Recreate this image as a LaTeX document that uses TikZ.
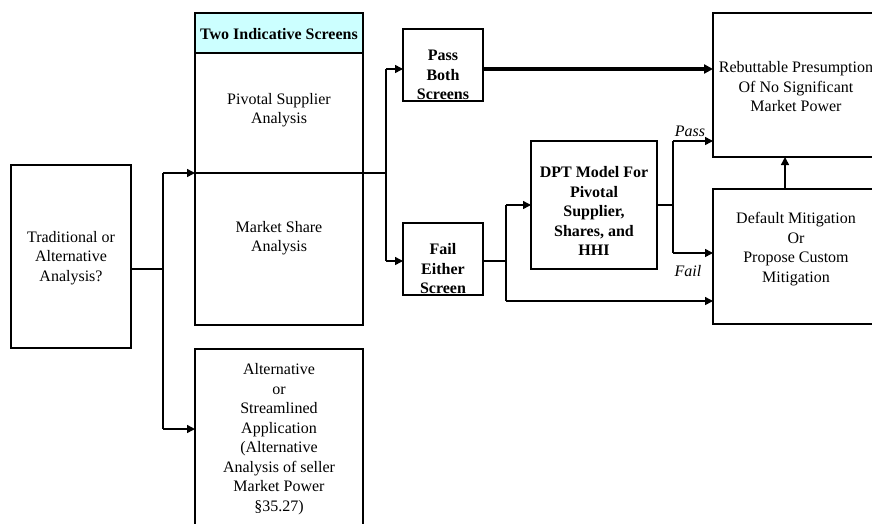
\documentclass[tikz,border=0pt]{standalone}
\usepackage{fontspec}
\setmainfont{Liberation Serif}
\usetikzlibrary{arrows.meta}
\definecolor{hdrcyan}{HTML}{CCFFFF}
\begin{document}
\begin{tikzpicture}[x=1pt,y=-1pt,
  box/.style={draw,line width=1.7pt,inner sep=0pt,outer sep=0pt,anchor=north west},
  txt/.style={align=center,font=\fontsize{16}{19.5}\selectfont,inner sep=0pt},
  btxt/.style={align=center,font=\fontsize{16}{19.5}\selectfont\bfseries,inner sep=0pt},
  itxt/.style={align=center,font=\fontsize{16}{19.5}\selectfont\itshape,inner sep=0pt},
  wire/.style={line width=1.5pt},
  conn/.style={line width=1.5pt,-{Triangle[length=8pt,width=8pt]}},
  thick conn/.style={line width=3.5pt,-{Triangle[length=9pt,width=9pt]}}]
\path[use as bounding box] (0,0) rectangle (872,523);
\clip (0,0) rectangle (872,523);

% boxes
\node[box,minimum width=120pt,minimum height=183pt] (trad) at (11,165) {};
\node[box,minimum width=168pt,minimum height=312pt] (screens) at (195,13) {};
\node[box,fill=hdrcyan,minimum width=168pt,minimum height=40pt] (hdr) at (195,13) {};
\node[box,minimum width=168pt,minimum height=200pt] (alt) at (195,349) {};
\node[box,minimum width=80pt,minimum height=72pt] (pass) at (403,29) {};
\node[box,minimum width=80pt,minimum height=72pt] (fail) at (403,223) {};
\node[box,minimum width=126pt,minimum height=128pt] (dpt) at (531,141) {};
\node[box,minimum width=166pt,minimum height=144pt] (rebut) at (713,13) {};
\node[box,minimum width=166pt,minimum height=135pt] (mitig) at (713,189) {};

% texts
\node[btxt] (hdrT) at (279,34) {Two Indicative Screens};
\node[txt] (psaT) at (279,110) {Pivotal Supplier\\Analysis};
\node[txt] (msaT) at (279,238) {Market Share\\Analysis};
\node[txt] (tradT) at (71,258) {Traditional or\\Alternative\\Analysis?};
\node[txt] (altT) at (279,439) {Alternative\\or\\Streamlined\\Application\\(Alternative\\Analysis of seller\\Market Power\\§35.27)};
\node[btxt] (passT) at (443,75) {Pass\\Both\\Screens};
\node[btxt] (failT) at (443,269) {Fail\\Either\\Screen};
\node[btxt] (dptT) at (594,211) {DPT Model For\\Pivotal\\Supplier,\\Shares, and\\HHI};
\node[txt] (rebT) at (796,87) {Rebuttable Presumption\\Of No Significant\\Market Power};
\node[txt] (mitT) at (796,249) {Default Mitigation\\Or\\Propose Custom\\Mitigation};
\node[itxt] (passL) at (690,131) {Pass};
\node[itxt] (failL) at (688,271) {Fail};

% junction coordinates
\coordinate (j1) at (163,269);
\coordinate (j2) at (386,173);
\coordinate (j3) at (506,261);
\coordinate (j4) at (673,205);

% left split
\draw[wire] (trad.east |- j1) -- (j1);
\draw[wire] (163,173) -- (163,429);
\draw[conn] (163,173) -- (screens.west |- 0,173);
\draw[conn] (163,429) -- (alt.west |- 0,429);

% divider through screens box and on to split
\draw[wire] (screens.west |- j2) -- (j2);
\draw[wire] (386,69) -- (386,261);
\draw[conn] (386,69) -- (pass.west |- 0,69);
\draw[conn] (386,261) -- (fail.west |- 0,261);

% pass both
\draw[thick conn] (pass.east |- 0,69) -- (rebut.west |- 0,69);

% fail either
\draw[wire] (fail.east |- j3) -- (j3);
\draw[wire] (506,205) -- (506,301);
\draw[conn] (506,205) -- (dpt.west |- 0,205);
\draw[conn] (506,301) -- (mitig.west |- 0,301);

% DPT outcome
\draw[wire] (dpt.east |- j4) -- (j4);
\draw[wire] (673,141) -- (673,253);
\draw[conn] (673,141) -- (rebut.west |- 0,141);
\draw[conn] (673,253) -- (mitig.west |- 0,253);

% mitigation up
\draw[conn] (mitig.north -| 785,0) -- (rebut.south -| 785,0);
\end{tikzpicture}
\end{document}
